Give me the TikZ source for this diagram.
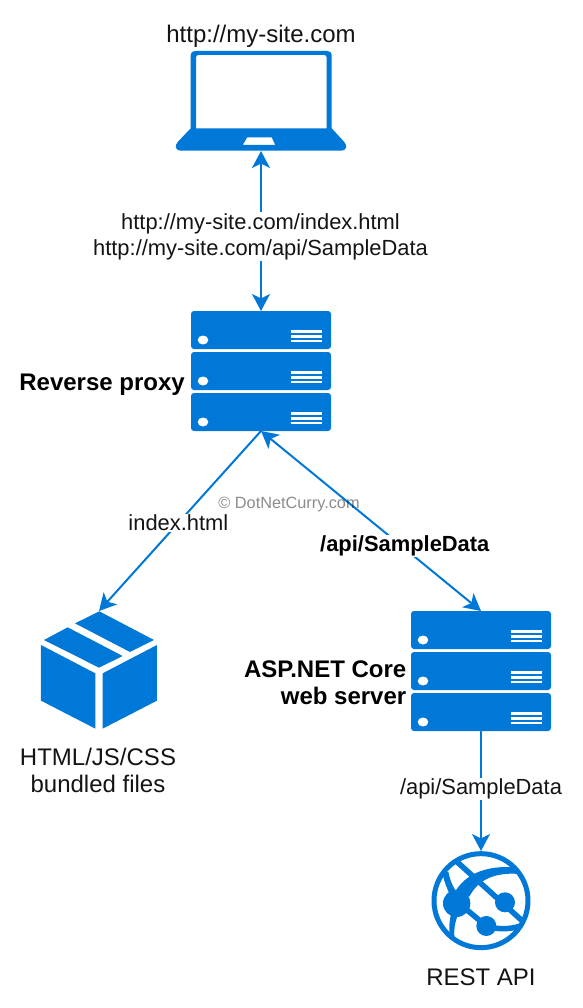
\documentclass[tikz,border=0pt]{standalone}
\usepackage{fontspec}
\setmainfont{Liberation Sans}
\usetikzlibrary{arrows.meta}
\definecolor{azure}{HTML}{0078D7}
\tikzset{
  anchorbox/.style={draw=none,inner sep=0pt,outer sep=0pt,rectangle},
  txt/.style={font=\fontsize{24}{28}\selectfont,text=black!92,inner sep=0pt,align=center},
  txtb/.style={font=\fontsize{24}{28}\selectfont\bfseries,text=black,inner sep=0pt,align=right},
  small/.style={font=\fontsize{21.9}{26}\selectfont,text=black!92,inner sep=0pt,align=center},
  smallb/.style={font=\fontsize{21.9}{26}\selectfont\bfseries,text=black,inner sep=0pt,align=center},
  link/.style={draw=azure,line width=2pt},
  >={Stealth[length=17pt,width=18pt,inset=4.5pt]},
  pad/.style={fill=white,inner xsep=0pt,inner ysep=1pt},
  servericon/.pic={
    \foreach \t in {0,41,82}{
      \fill[azure,rounded corners=3pt] (0,\t) rectangle (140,\t+38);
      \fill[white] (12,\t+29) ellipse [x radius=5.3,y radius=4.5];
      \foreach \l in {20.7,25.3,30}{\fill[white] (100,\t+\l-1.3) rectangle (131,\t+\l+1.3);}
    }
  }
}
\begin{document}
\begin{tikzpicture}[x=1pt,y=-1pt]
\useasboundingbox (0,0) rectangle (582,1008);
\fill[white] (0,0) rectangle (582,1008);
% icon frames
\node[anchorbox,minimum width=170pt,minimum height=100pt] (laptop) at (261,101) {};
\node[anchorbox,minimum width=140pt,minimum height=120pt] (proxy) at (261,371) {};
\node[anchorbox,minimum width=116pt,minimum height=118pt] (box) at (99,670) {};
\node[anchorbox,minimum width=140pt,minimum height=120pt] (web) at (481,671) {};
\node[anchorbox,minimum width=100pt,minimum height=100pt] (globe) at (481,901) {};
% laptop
\fill[azure,even odd rule] (190.7,128.3) -- (190.7,55) .. controls (190.7,52.5) and (192.5,51) .. (195,51) -- (327.5,51) .. controls (330,51) and (331.7,52.5) .. (331.7,55) -- (331.7,128.3) -- (344,141.7) .. controls (347.5,145.5) and (347.5,150.7) .. (340,150.7) -- (182,150.7) .. controls (174.5,150.7) and (174.5,145.5) .. (178,141.7) -- cycle
  (196,128.3) -- (196,57.5) .. controls (196,56) and (197,55) .. (198.5,55) -- (324.2,55) .. controls (325.7,55) and (326.7,56) .. (326.7,57.5) -- (326.7,128.3) -- cycle
  (247.3,137.3) -- (271.7,137.3) -- (275.3,145) -- (242.7,145) -- cycle;
% servers
\pic at (191,311) {servericon};
\pic at (411,611) {servericon};
% package
\begin{scope}[shift={(20,590)},x=0.3333pt,y=-0.3333pt]
\fill[azure] (238,64) -- (402,150) -- (330,186) -- (165,100) -- cycle;
\fill[azure] (143,112) -- (308,198) -- (237,233) -- (72,150) -- cycle;
\fill[azure] (63,165) -- (226,250) -- (226,416) -- (63,332) -- cycle;
\fill[azure] (248,250) -- (411,165) -- (411,332) -- (248,416) -- cycle;
\end{scope}
% globe
\begin{scope}[shift={(410,840)},x=0.3333pt,y=-0.3333pt]
\draw[azure,line width=5pt] (213,182) circle [radius=141];
\begin{scope}
\clip (213,182) circle [radius=145];
\draw[azure,line width=5.5pt] (135,60) -- (345,250);
\fill[azure] (130,165) .. controls (165,95) and (240,72) .. (340,84) -- (345,104) .. controls (260,92) and (205,117) .. (178,170) -- cycle;
\fill[azure] (97,100) -- (115,95) .. controls (120,120) and (128,140) .. (142,160) -- (125,175) .. controls (112,150) and (103,125) .. (97,100) -- cycle;
\fill[azure] (125,215) -- (145,222) .. controls (135,245) and (130,270) .. (134,302) -- (120,295) .. controls (116,265) and (118,240) .. (125,215) -- cycle;
\draw[azure,line width=5.5pt] (165,205) -- (229,258);
\draw[azure,line width=5.5pt] (229,258) .. controls (265,270) and (310,270) .. (350,250);
\end{scope}
\fill[azure] (140,190) circle [radius=41];
\fill[azure] (285,187) circle [radius=30];
\fill[azure] (229,258) circle [radius=30];
\end{scope}
% connectors
\draw[link,<->] (laptop.south) -- (proxy.north);
\draw[link,->] (proxy.south) -- (box.north) node[small,pad,pos=0.51] (idx) {index.html};
\draw[link,<->] (proxy.south) -- (web.north) node[smallb,pad,pos=0.64,xshift=3pt] (apib) {/api/SampleData};
\draw[link,->] (web.south) -- (globe.north) node[small,pad,pos=0.51,yshift=3pt] (apin) {/api/SampleData};
% labels
\node[small,pad] (urlt) at (260.5,236.5) {http://my-site.com/index.html\\[0pt]http://my-site.com/api/SampleData};
\node[txt] (title) at (261,36) {http://my-site.com};
\node[txtb,anchor=east] (rp) at (185,384.5) {Reverse proxy};
\node[txtb,anchor=east] (asp) at (406.5,682.5) {ASP.NET Core\\[-1pt]web server};
\node[txt] (html) at (98,770) {HTML/JS/CSS\\[-1pt]bundled files};
\node[txt] (rest) at (481,977.5) {REST API};
\node[font=\fontsize{16.3}{20}\selectfont,text=black,opacity=0.45,inner sep=0pt] (mark) at (289,504) {© DotNetCurry.com};
\end{tikzpicture}
\end{document}
